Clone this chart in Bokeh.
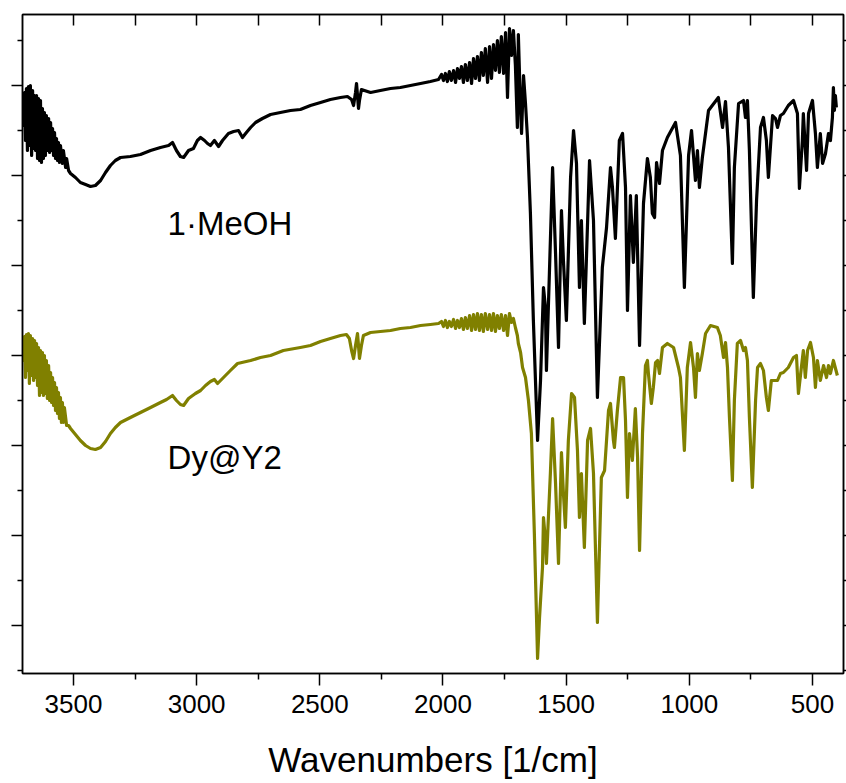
from bokeh.plotting import figure
from bokeh.models import Range1d, LinearAxis, FixedTicker, Label
from bokeh.embed import file_html
from bokeh.resources import INLINE

# ---------------- data (wavenumber in cm^-1, transmittance in arbitrary units) -------------
wn_meoh = [3707, 3703, 3699, 3695, 3691, 3687, 3683, 3679, 3675, 3670, 3666, 3662, 3658, 3654, 3650,
           3646, 3642, 3638, 3634, 3630, 3626, 3622, 3618, 3614, 3610, 3606, 3601, 3597, 3593, 3589,
           3585, 3581, 3577, 3573, 3569, 3565, 3561, 3557, 3553, 3545, 3541, 3532, 3528, 3520, 3512,
           3492, 3472, 3451, 3431, 3411, 3390, 3370, 3350, 3330, 3309, 3269, 3228, 3187, 3147, 3114,
           3098, 3082, 3066, 3053, 3033, 3013, 2997, 2984, 2968, 2956, 2944, 2928, 2911, 2895, 2871,
           2850, 2830, 2814, 2798, 2781, 2761, 2733, 2700, 2660, 2619, 2579, 2538, 2497, 2457, 2416,
           2388, 2371, 2363, 2355, 2351, 2347, 2343, 2339, 2331, 2319, 2294, 2254, 2213, 2173, 2132,
           2091, 2051, 2018, 2006, 1998, 1990, 1982, 1974, 1966, 1957, 1949, 1941, 1933, 1925, 1917,
           1909, 1901, 1892, 1884, 1876, 1868, 1860, 1852, 1844, 1836, 1828, 1819, 1811, 1803, 1795,
           1787, 1779, 1771, 1763, 1754, 1746, 1738, 1730, 1722, 1714, 1706, 1698, 1694, 1685, 1681,
           1673, 1665, 1657, 1645, 1633, 1616, 1604, 1592, 1584, 1580, 1568, 1555, 1543, 1531, 1519,
           1511, 1499, 1482, 1470, 1458, 1446, 1438, 1426, 1405, 1389, 1373, 1353, 1336, 1320, 1312,
           1300, 1284, 1271, 1259, 1251, 1239, 1227, 1215, 1202, 1186, 1170, 1158, 1150, 1141, 1133,
           1121, 1109, 1089, 1056, 1036, 1020, 1003, 991, 975, 967, 959, 947, 922, 882, 865,
           853, 841, 825, 817, 800, 780, 772, 764, 756, 740, 727, 711, 699, 687, 679,
           662, 650, 642, 630, 618, 598, 577, 561, 553, 541, 537, 524, 516, 500, 488,
           480, 468, 459, 447, 435, 427, 419, 415, 411, 407, 403]
t_meoh = [57.3, 54.8, 58.1, 53.3, 58.5, 52.3, 58.7, 52.8, 58.8, 51.8, 58.3, 52.5, 57.8, 52.3, 57.8,
          51.5, 57.5, 51.3, 57.3, 51.1, 56.5, 51.5, 56.1, 51.8, 55.8, 52.3, 55.5, 52.1, 55.1, 52.3,
          54.5, 51.8, 54.1, 51.5, 53.5, 51.3, 53.1, 51.1, 52.8, 51.0, 52.3, 50.6, 51.5, 50.3, 50.0,
          49.6, 49.1, 48.9, 48.7, 48.8, 49.3, 50.1, 50.8, 51.3, 51.6, 51.7, 51.9, 52.3, 52.6, 52.8,
          53.1, 52.3, 51.7, 51.6, 52.3, 52.5, 53.3, 53.6, 53.3, 53.0, 52.8, 53.3, 52.7, 53.3, 54.0,
          54.2, 54.3, 53.6, 54.1, 54.6, 55.1, 55.5, 55.9, 56.1, 56.3, 56.4, 56.8, 57.1, 57.4, 57.6,
          57.7, 57.4, 56.8, 58.1, 59.0, 57.8, 56.5, 57.3, 58.4, 58.3, 58.1, 58.3, 58.5, 58.6, 58.8,
          59.0, 59.2, 59.4, 59.9, 59.3, 60.0, 59.2, 60.2, 59.3, 60.3, 59.1, 60.5, 59.5, 60.7, 59.1,
          60.9, 59.3, 61.1, 59.0, 61.5, 59.5, 61.7, 59.3, 62.1, 59.8, 62.5, 59.1, 62.7, 59.5, 62.9,
          60.3, 63.3, 60.1, 63.7, 60.0, 64.1, 57.6, 64.5, 61.8, 64.3, 60.8, 54.6, 63.9, 56.3, 54.0,
          59.8, 57.0, 53.6, 46.0, 35.3, 23.3, 29.3, 38.6, 36.6, 30.3, 40.0, 50.6, 42.0, 32.6, 46.3,
          41.3, 35.3, 49.6, 54.3, 51.0, 38.6, 45.3, 35.0, 51.3, 45.3, 27.6, 40.6, 44.6, 50.6, 48.6,
          43.5, 53.3, 54.0, 48.6, 36.3, 47.8, 41.1, 47.8, 32.8, 47.0, 51.5, 49.6, 46.0, 45.6, 51.1,
          49.0, 52.3, 53.6, 55.1, 51.8, 38.6, 51.8, 54.3, 49.3, 52.3, 48.6, 51.6, 56.3, 57.6, 54.6,
          57.2, 52.6, 41.0, 50.6, 57.0, 57.3, 55.6, 57.3, 52.3, 37.6, 47.3, 54.6, 55.6, 53.3, 49.6,
          55.8, 55.5, 54.6, 55.8, 56.0, 56.8, 57.3, 56.0, 48.5, 53.3, 56.0, 50.3, 56.0, 57.3, 54.0,
          50.6, 54.0, 51.0, 52.0, 54.0, 53.3, 55.6, 58.6, 56.3, 57.8, 56.6]

wn_dy = [3707, 3703, 3699, 3695, 3691, 3687, 3683, 3679, 3675, 3670, 3666, 3662, 3658, 3654, 3650,
         3646, 3642, 3638, 3634, 3630, 3626, 3622, 3618, 3614, 3610, 3606, 3601, 3597, 3593, 3589,
         3585, 3581, 3577, 3573, 3569, 3565, 3561, 3557, 3553, 3549, 3545, 3541, 3537, 3528, 3520,
         3512, 3492, 3472, 3451, 3431, 3411, 3390, 3370, 3350, 3330, 3309, 3269, 3228, 3187, 3147,
         3122, 3098, 3082, 3066, 3053, 3033, 3005, 2984, 2964, 2944, 2928, 2915, 2895, 2863, 2834,
         2781, 2741, 2700, 2648, 2579, 2538, 2497, 2457, 2416, 2392, 2380, 2371, 2363, 2355, 2347,
         2343, 2339, 2331, 2323, 2294, 2254, 2213, 2173, 2132, 2091, 2051, 2018, 2006, 1998, 1990,
         1982, 1974, 1966, 1957, 1949, 1941, 1933, 1925, 1917, 1909, 1901, 1892, 1884, 1876, 1868,
         1860, 1852, 1844, 1836, 1828, 1819, 1811, 1803, 1795, 1787, 1779, 1771, 1763, 1754, 1746,
         1738, 1730, 1722, 1714, 1706, 1698, 1694, 1685, 1677, 1665, 1653, 1641, 1629, 1616, 1608,
         1596, 1592, 1584, 1580, 1572, 1564, 1555, 1543, 1531, 1519, 1511, 1503, 1491, 1478, 1466,
         1454, 1446, 1438, 1426, 1413, 1401, 1389, 1373, 1357, 1344, 1328, 1320, 1308, 1304, 1292,
         1279, 1267, 1259, 1251, 1243, 1231, 1219, 1210, 1202, 1190, 1178, 1170, 1166, 1154, 1146,
         1137, 1129, 1121, 1109, 1089, 1064, 1044, 1036, 1020, 1008, 995, 983, 975, 967, 959,
         947, 934, 914, 886, 874, 861, 853, 845, 837, 825, 817, 805, 792, 780, 772,
         764, 756, 744, 731, 723, 711, 699, 687, 679, 667, 658, 642, 630, 618, 598,
         577, 565, 557, 545, 537, 529, 520, 508, 496, 488, 480, 468, 455, 443, 435,
         427, 415, 399]
t_dy = [33.3, 31.3, 33.7, 29.6, 33.9, 30.3, 34.0, 29.0, 33.8, 29.8, 33.5, 29.3, 33.3, 29.6, 33.0,
        28.8, 32.6, 27.8, 32.3, 28.1, 32.1, 27.8, 31.8, 28.0, 31.3, 27.5, 30.8, 27.3, 30.1, 27.1,
        29.6, 26.8, 29.1, 26.3, 28.6, 26.0, 28.1, 25.5, 27.6, 25.1, 27.1, 25.1, 26.6, 24.8, 24.8,
        24.5, 23.9, 23.3, 22.8, 22.5, 22.4, 22.6, 23.2, 24.0, 24.6, 25.1, 25.6, 26.1, 26.6, 27.1,
        27.4, 27.8, 27.3, 26.9, 26.8, 27.5, 28.0, 28.3, 28.8, 29.2, 29.4, 29.0, 29.5, 30.3, 31.0,
        31.3, 31.6, 31.8, 32.3, 32.6, 32.8, 33.2, 33.5, 33.8, 33.9, 33.5, 32.3, 31.5, 32.8, 34.0,
        32.8, 31.5, 32.8, 33.8, 34.1, 34.2, 34.3, 34.5, 34.6, 34.8, 34.9, 35.0, 35.2, 34.7, 35.3,
        34.6, 35.2, 34.7, 35.4, 34.5, 35.3, 34.6, 35.5, 34.4, 35.6, 34.5, 35.8, 34.3, 35.9, 34.4,
        36.0, 34.3, 35.9, 34.2, 36.0, 34.4, 35.9, 34.3, 36.0, 34.2, 35.8, 34.5, 35.9, 34.3, 35.8,
        33.8, 36.0, 35.1, 35.5, 34.6, 33.8, 33.0, 32.1, 30.6, 29.6, 27.3, 24.0, 14.0, 1.5, 5.6,
        10.6, 15.6, 13.3, 11.0, 15.6, 20.0, 25.5, 19.0, 11.0, 22.1, 18.0, 14.6, 23.3, 28.0, 27.6,
        22.3, 15.6, 20.0, 12.6, 23.3, 24.5, 20.0, 5.1, 19.6, 20.3, 26.3, 27.0, 23.3, 22.6, 26.3,
        29.6, 29.6, 25.3, 17.6, 24.0, 21.3, 26.5, 21.6, 12.3, 24.0, 30.8, 31.3, 30.0, 27.0, 28.6,
        31.1, 31.3, 30.0, 32.6, 33.0, 32.6, 30.6, 29.6, 22.3, 30.6, 33.1, 30.6, 27.6, 32.0, 30.3,
        32.0, 34.0, 34.8, 34.6, 33.8, 31.6, 33.1, 30.6, 25.6, 19.3, 27.3, 33.0, 33.3, 32.3, 32.6,
        31.3, 25.6, 18.6, 27.3, 30.6, 31.0, 30.3, 27.6, 26.3, 29.3, 29.3, 29.3, 30.0, 30.1, 30.6,
        31.6, 31.8, 28.0, 30.6, 32.3, 29.6, 32.3, 33.1, 31.6, 28.6, 31.3, 29.3, 30.8, 29.6, 30.8,
        30.0, 31.3, 29.8]

x_major = [3500, 3000, 2500, 2000, 1500, 1000, 500]
x_minor = [3750, 3250, 2750, 2250, 1750, 1250, 750, 250]
x_labels = {v: str(v) for v in x_major}
y_major = [58.8, 49.8, 40.8, 31.8, 22.8, 13.8, 4.8]
y_minor = [63.3, 54.3, 45.3, 36.3, 27.3, 18.3, 9.3, 0.3]

FONT = "Liberation Sans"

p = figure(frame_width=821, frame_height=659,
           x_range=Range1d(3707, 374), y_range=Range1d(0, 65.9),
           output_backend="svg", toolbar_location=None,
           min_border_left=22, min_border_right=3, min_border_top=14, min_border_bottom=60)
p.grid.visible = False
p.background_fill_color = "white"
p.border_fill_color = "white"
p.outline_line_color = "black"
p.outline_line_width = 1.5

xt = FixedTicker(ticks=x_major, minor_ticks=x_minor)
yt = FixedTicker(ticks=y_major, minor_ticks=y_minor)

xa = p.xaxis[0]
xa.ticker = xt
xa.major_label_overrides = x_labels
xa.axis_label = "Wavenumbers [1/cm]"
xa.axis_label_text_font = FONT
xa.axis_label_text_font_style = "normal"
xa.axis_label_text_font_size = "35px"
xa.axis_label_text_color = "black"
xa.axis_label_standoff = 24
xa.major_label_text_font = FONT
xa.major_label_text_font_size = "26px"
xa.major_label_text_color = "black"
xa.major_label_standoff = 9
xa.axis_line_width = 1.5
xa.major_tick_out = 12
xa.major_tick_in = 0
xa.minor_tick_out = 6
xa.minor_tick_in = 0
xa.major_tick_line_width = 1.5
xa.minor_tick_line_width = 1.5

ya = p.yaxis[0]
ya.ticker = yt
ya.major_label_text_font_size = "1px"
ya.major_label_text_color = None
ya.major_label_standoff = 0
ya.axis_line_width = 1.5
ya.major_tick_out = 11
ya.major_tick_in = 0
ya.minor_tick_out = 5
ya.minor_tick_in = 0
ya.major_tick_line_width = 1.5
ya.minor_tick_line_width = 1.5

top = LinearAxis(ticker=xt, major_label_text_font_size="1px", major_label_text_color=None,
                 major_label_standoff=0,
                 major_tick_in=11, major_tick_out=0, minor_tick_in=11, minor_tick_out=0,
                 axis_line_width=1.5, major_tick_line_width=1.5, minor_tick_line_width=1.5)
p.add_layout(top, "above")
right = LinearAxis(ticker=yt, major_label_text_font_size="1px", major_label_text_color=None,
                   major_label_standoff=0,
                   major_tick_in=0, major_tick_out=3, minor_tick_in=0, minor_tick_out=3,
                   axis_line_width=1.5, major_tick_line_width=1.5, minor_tick_line_width=1.5)
p.add_layout(right, "right")

p.line(wn_dy, t_dy, line_color="#808000", line_width=3.2, line_join="round")
p.line(wn_meoh, t_meoh, line_color="black", line_width=3.2, line_join="round")

p.add_layout(Label(x=3118, y=45.0, text="1\u00b7MeOH", text_font=FONT, text_font_size="33px",
                   text_color="black", text_baseline="alphabetic", text_align="left"))
p.add_layout(Label(x=3118, y=21.6, text="Dy@Y2", text_font=FONT, text_font_size="33px",
                   text_color="black", text_baseline="alphabetic", text_align="left"))

open("out.html", "w").write(file_html(p, INLINE))
